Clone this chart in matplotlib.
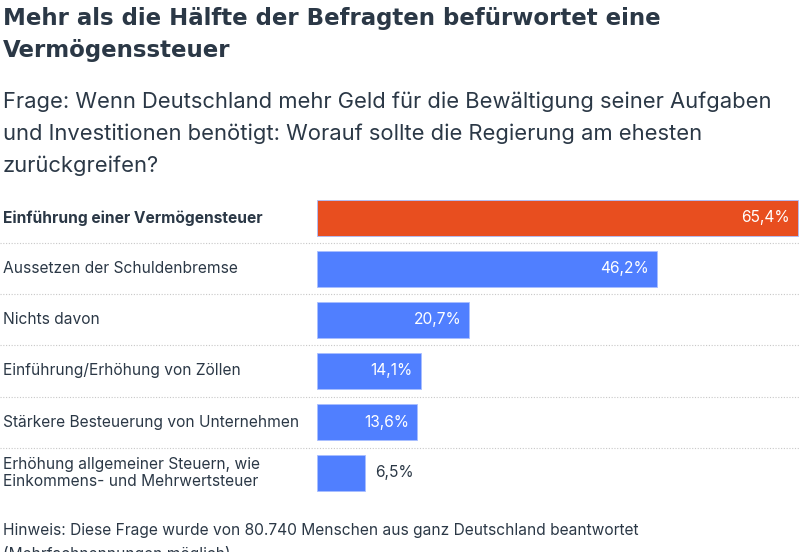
import matplotlib.pyplot as plt
from matplotlib.transforms import blended_transform_factory

# data
categories = [
    "Einführung einer Vermögensteuer",
    "Aussetzen der Schuldenbremse",
    "Nichts davon",
    "Einführung/Erhöhung von Zöllen",
    "Stärkere Besteuerung von Unternehmen",
    "Erhöhung allgemeiner Steuern, wie\nEinkommens- und Mehrwertsteuer",
]
values = [65.4, 46.2, 20.7, 14.1, 13.6, 6.5]
value_labels = ["65,4%", "46,2%", "20,7%", "14,1%", "13,6%", "6,5%"]

title_lines = ["Mehr als die Hälfte der Befragten befürwortet eine",
               "Vermögenssteuer"]
subtitle_lines = ["Frage: Wenn Deutschland mehr Geld für die Bewältigung seiner Aufgaben",
                  "und Investitionen benötigt: Worauf sollte die Regierung am ehesten",
                  "zurückgreifen?"]
note_lines = ["Hinweis: Diese Frage wurde von 80.740 Menschen aus ganz Deutschland beantwortet",
              "(Mehrfachnennungen möglich)"]

W, H = 800, 552
DARK = "#2b3846"
ORANGE = "#e84e1f"
BLUE = "#507fff"

fig = plt.figure(figsize=(W / 100, H / 100), dpi=100)
fig.patch.set_facecolor("white")


def line_at(text, baseline_px, **kw):
    fig.text(3 / W, 1 - baseline_px / H, text, ha="left", va="baseline",
             color=DARK, **kw)


# title + subtitle, placed line by line on the reference baselines
for k, t in enumerate(title_lines):
    line_at(t, 25 + 32 * k, fontsize=16.5, fontweight="bold", family="DejaVu Sans")
for k, t in enumerate(subtitle_lines):
    line_at(t, 107.5 + 32 * k, fontsize=15.8, family="Inter")

# bar area: x from 317px to 800px, rows 51px high
x0, x1 = 317, 800
top, bottom = 192.5, 498.5
ax = fig.add_axes([x0 / W, 1 - bottom / H, (x1 - x0) / W, (bottom - top) / H])
px_per_pct = (798 - x0) / values[0]
ax.set_xlim(0, (x1 - x0) / px_per_pct)
ax.set_ylim(len(categories) - 0.5, -0.5)
ax.axis("off")

rows = range(len(categories))
colors = [ORANGE] + [BLUE] * (len(categories) - 1)
ax.barh(list(rows), values, height=0.7, color=colors, edgecolor="#a9bfff",
        linewidth=0.6)

pad = 8 / px_per_pct
for i, (v, lab) in enumerate(zip(values, value_labels)):
    if v > 10:
        ax.text(v - pad, i, lab, ha="right", va="center", color="white",
                fontsize=11.2, family="Inter")
    else:
        ax.text(v + 1.3 * pad, i, lab, ha="left", va="center", color=DARK,
                fontsize=11.2, family="Inter")

# category labels and dotted separators across the full width
tr = blended_transform_factory(fig.transFigure, ax.transData)
for i, cat in enumerate(categories):
    ax.text(3 / W, i, cat, transform=tr, ha="left", va="center", color=DARK,
            fontsize=11.2, family="Inter", linespacing=1.2,
            fontweight="bold" if i == 0 else "normal", clip_on=False)
for i in rows:
    if i < len(categories) - 1:
        ax.plot([0, 1], [i + 0.5, i + 0.5], transform=tr, color="#c8c8c8",
                lw=0.8, ls=(0, (1, 1.5)), clip_on=False)

for k, t in enumerate(note_lines):
    line_at(t, 535 + 24 * k, fontsize=11.2, family="Inter")

fig.savefig("out.png", dpi=100, facecolor="white")
